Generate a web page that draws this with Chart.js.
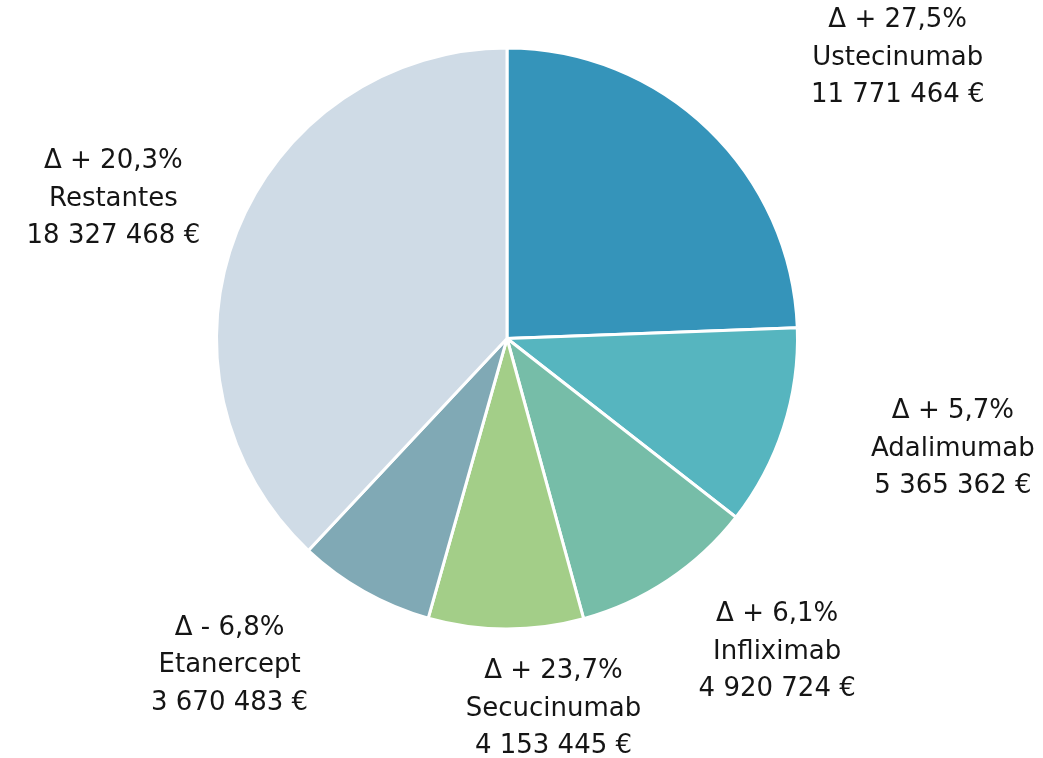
<!DOCTYPE html>
<html>
<head>
<meta charset="utf-8">
<script src="https://cdn.jsdelivr.net/npm/chart.js@4/dist/chart.umd.min.js"></script>
<style>
html,body{margin:0;padding:0;background:#fff;}
#wrap{width:1043px;height:758px;position:relative;}
</style>
</head>
<body>
<div id="wrap"><canvas id="c" width="1043" height="758"></canvas></div>
<script>
const categories = ["Ustecinumab","Adalimumab","Infliximab","Secucinumab","Etanercept","Restantes"];
const values = [11771464, 5365362, 4920724, 4153445, 3670483, 18327468];
const deltas = ["Δ + 27,5%","Δ + 5,7%","Δ + 6,1%","Δ + 23,7%","Δ - 6,8%","Δ + 20,3%"];
const colors = ["#3594BA","#56B5BF","#76BDA8","#A3CE88","#80A9B5","#CFDBE6"];

// label anchor offsets relative to pie radius (style only)
const labelOffsets = [[1.345,-0.965],[1.535,0.38],[0.93,1.08],[0.16,1.275],[-0.955,1.125],[-1.355,-0.48]];

function fmt(v){ return v.toString().replace(/\B(?=(\d{3})+(?!\d))/g, " ") + " €"; }

const labelPlugin = {
  id:'labels',
  afterDatasetsDraw(chart){
    const ctx = chart.ctx;
    const meta = chart.getDatasetMeta(0);
    ctx.save();
    ctx.fillStyle = "#151515";
    ctx.font = "26px 'Century Gothic', 'URW Gothic', 'DejaVu Sans', sans-serif";
    ctx.textAlign = "center";
    ctx.textBaseline = "middle";
    meta.data.forEach((arc,i)=>{
      const cx = arc.x, cy = arc.y, r = arc.outerRadius;
      const x = cx + labelOffsets[i][0]*r;
      const y = cy + labelOffsets[i][1]*r;
      const lines = [deltas[i], categories[i], fmt(values[i])];
      const lh = 37.5;
      lines.forEach((t,k)=> ctx.fillText(t, x, y + (k-1)*lh));
    });
    ctx.restore();
  }
};

new Chart(document.getElementById('c'), {
  type:'pie',
  data:{labels:categories, datasets:[{data:values, backgroundColor:colors, borderColor:"#ffffff", borderWidth:3}]},
  options:{
    responsive:false,
    animation:false,
    layout:{padding:{top:46, bottom:127, left:215, right:244}},
    plugins:{legend:{display:false}, tooltip:{enabled:false}}
  },
  plugins:[labelPlugin]
});
</script>
</body>
</html>
